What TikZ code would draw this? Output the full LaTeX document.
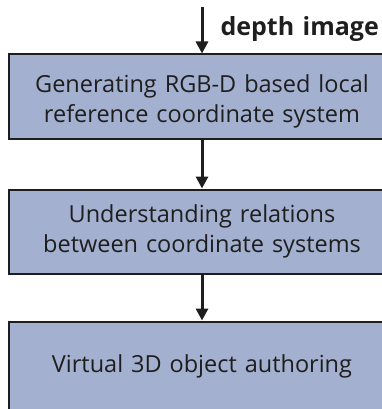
\documentclass[tikz,border=0pt]{standalone}
\usepackage{fontspec}
\setmainfont{Open Sans}[WordSpace={1.3}]
\usepackage{xcolor}
\usetikzlibrary{arrows.meta,positioning}
\definecolor{boxfill}{RGB}{163,176,207}
\definecolor{inkdark}{RGB}{30,30,30}

\begin{document}
\begin{tikzpicture}[x=1pt,y=-1pt,
			every node/.style={font=\fontsize{23.5}{29.5}\selectfont, text=inkdark},
			stage/.style={draw=inkdark, line width=2pt, fill=boxfill, align=center, inner sep=0pt, minimum width=386pt, minimum height=84pt},
			ar/.style={-{Triangle[length=12pt,width=12pt]}, line width=3pt, draw=inkdark}]
			\clip (0,0) rectangle (382,409);
			\node[stage] (gen) at (202,96.5) {\rule{0pt}{28pt}Generating RGB-D based local\\ reference coordinate system};
			\node[stage, below=49pt of gen] (rel) {Understanding relations\\ between coordinate systems};
			\node[stage, below=46pt of rel, minimum height=89pt] (auth) {Virtual 3D object authoring};
			\coordinate (in) at (202,7);
			\draw[ar] (in) -- (gen.north);
			\node[anchor=west, font=\fontsize{25}{28}\selectfont\bfseries] (depth) at (217,29) {depth image};
			\draw[ar] (gen) -- (rel);
			\draw[ar] (rel) -- (auth);
		\end{tikzpicture}
\end{document}
